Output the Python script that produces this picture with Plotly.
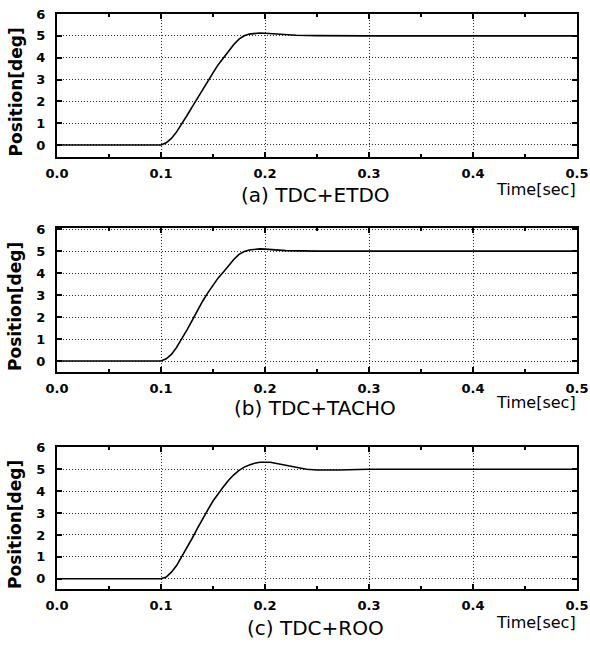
import plotly.graph_objects as go

# ---- data ----
t_a = [0.0, 0.1, 0.105, 0.11, 0.115, 0.12, 0.125, 0.13, 0.135, 0.14, 0.145, 0.15, 0.155, 0.16,
       0.165, 0.17, 0.175, 0.18, 0.185, 0.19, 0.195, 0.2, 0.21, 0.22, 0.23, 0.25, 0.3, 0.5]
pos_a = [0.0, 0.0, 0.1, 0.3, 0.6, 0.95, 1.35, 1.75, 2.15, 2.55, 2.95, 3.3, 3.68, 4.0,
         4.3, 4.6, 4.85, 5.0, 5.08, 5.12, 5.13, 5.12, 5.08, 5.05, 5.03, 5.01, 5.0, 5.0]

t_b = [0.0, 0.1, 0.105, 0.11, 0.115, 0.12, 0.125, 0.13, 0.135, 0.14, 0.145, 0.15, 0.155, 0.16,
       0.165, 0.17, 0.175, 0.18, 0.185, 0.19, 0.195, 0.2, 0.21, 0.22, 0.25, 0.3, 0.5]
pos_b = [0.0, 0.0, 0.1, 0.3, 0.62, 1.0, 1.42, 1.85, 2.3, 2.72, 3.1, 3.45, 3.78, 4.05,
         4.35, 4.62, 4.85, 4.98, 5.05, 5.09, 5.1, 5.09, 5.05, 5.02, 5.0, 5.0, 5.0]

t_c = [0.0, 0.1, 0.105, 0.11, 0.115, 0.12, 0.125, 0.13, 0.135, 0.14, 0.145, 0.15, 0.155, 0.16,
       0.165, 0.17, 0.175, 0.18, 0.185, 0.19, 0.195, 0.2, 0.205, 0.21, 0.215, 0.22, 0.225,
       0.23, 0.24, 0.25, 0.26, 0.27, 0.28, 0.3, 0.5]
pos_c = [0.0, 0.0, 0.08, 0.3, 0.6, 1.0, 1.4, 1.85, 2.3, 2.75, 3.15, 3.55, 3.9, 4.2,
         4.5, 4.75, 4.95, 5.1, 5.2, 5.28, 5.32, 5.33, 5.32, 5.28, 5.23, 5.17, 5.12,
         5.07, 5.0, 4.97, 4.96, 4.97, 4.98, 5.0, 5.0]

captions = ["(a) TDC+ETDO", "(b) TDC+TACHO", "(c) TDC+ROO"]
x_ticks = [0.0, 0.1, 0.2, 0.3, 0.4, 0.5]
x_ticklabels = ["0.0", "0.1", "0.2", "0.3", "0.4", "0.5"]
y_ticks = [0, 1, 2, 3, 4, 5, 6]

series = [(t_a, pos_a), (t_b, pos_b), (t_c, pos_c)]

W, H = 590, 648
# pixel geometry of panels: (top, bottom)
panels_px = [(14, 157), (228, 372), (447, 589)]
left_px, right_px = 57, 577
yranges = [[-0.55, 6.0], [-0.5, 6.05], [-0.47, 6.02]]
time_off = [32, 30, 33]
cap_off = [38, 36, 39]

fig = go.Figure()
FONT = "DejaVu Sans, sans-serif"

annotations = []
for i, ((t, p), (top, bot)) in enumerate(zip(series, panels_px)):
    n = "" if i == 0 else str(i + 1)
    fig.add_trace(go.Scatter(x=t, y=p, mode="lines", line=dict(color="black", width=1.6),
                             xaxis="x" + n, yaxis="y" + n, showlegend=False))
    dom_y = [1 - bot / H, 1 - top / H]
    ax_common = dict(showline=True, linecolor="black", linewidth=2, mirror="ticks",
                     ticks="inside", tickcolor="black", tickwidth=1.5, showgrid=True,
                     gridcolor="#333333", griddash="1px,2px", gridwidth=1, zeroline=False,
                     automargin=False,
                     tickfont=dict(family=FONT, size=13, color="black", weight="bold"))
    fig.layout["xaxis" + n] = dict(ax_common, domain=[left_px / W, right_px / W],
                                   anchor="y" + n, range=[0, 0.5], tickvals=x_ticks,
                                   ticktext=x_ticklabels, ticklen=5, ticklabelstandoff=3,
                                   minor=dict(dtick=0.05, tick0=0, ticks="inside", ticklen=3,
                                              tickcolor="black", showgrid=False))
    fig.layout["yaxis" + n] = dict(ax_common, domain=dom_y, anchor="x" + n,
                                   range=yranges[i], tickvals=y_ticks, ticklen=5,
                                   ticklabelstandoff=7)
    # y-axis title (slightly below panel centre, as in the reference)
    annotations.append(dict(text="Position[deg]", x=15 / W, y=1 - ((top + bot) / 2 + 7) / H,
                            xref="paper", yref="paper", textangle=-90, showarrow=False,
                            font=dict(family=FONT, size=17, color="black", weight="bold"),
                            xanchor="center", yanchor="middle"))
    # x-axis title
    annotations.append(dict(text="Time[sec]", x=578 / W, y=1 - (bot + time_off[i]) / H,
                            xref="paper", yref="paper", showarrow=False,
                            font=dict(family=FONT, size=16, color="black"),
                            xanchor="right", yanchor="middle"))
    # caption
    annotations.append(dict(text=captions[i], x=315 / W, y=1 - (bot + cap_off[i]) / H,
                            xref="paper", yref="paper", showarrow=False,
                            font=dict(family=FONT, size=20, color="black"),
                            xanchor="center", yanchor="middle"))

fig.update_layout(width=W, height=H, margin=dict(l=0, r=0, t=0, b=0),
                  plot_bgcolor="white", paper_bgcolor="white", annotations=annotations)

fig.write_html("out.html")
